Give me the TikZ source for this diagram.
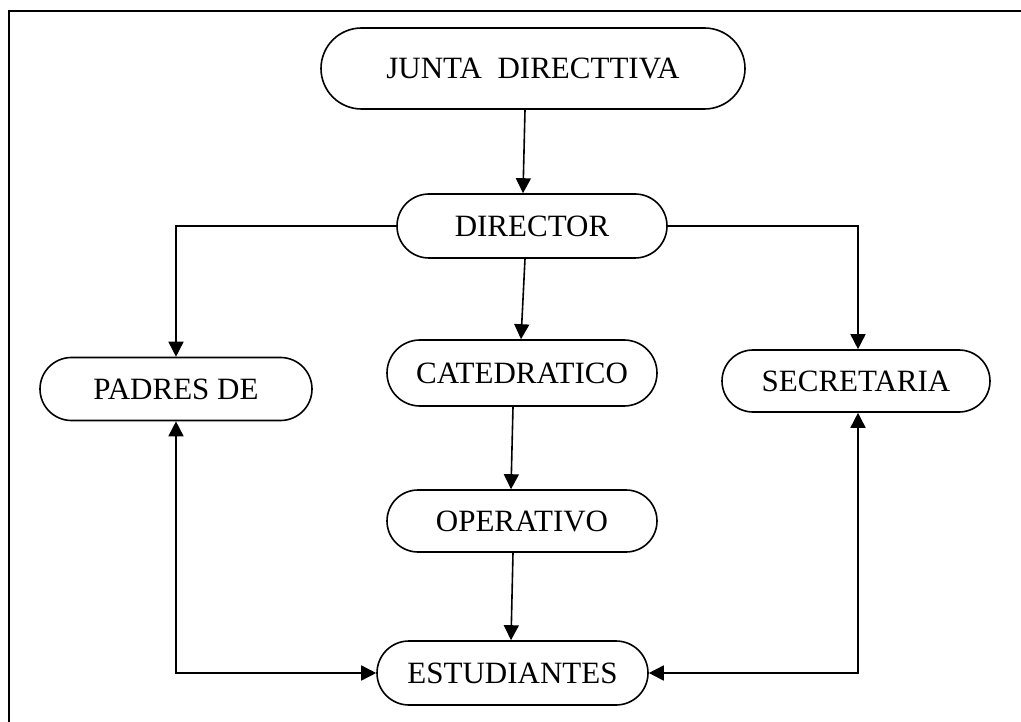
\documentclass[tikz,border=0pt]{standalone}
\usepackage{fontspec}
\setmainfont{Liberation Serif}
\usetikzlibrary{shapes.misc,arrows.meta}
\begin{document}
\begin{tikzpicture}[x=1pt,y=-1pt,
  box/.style={draw,line width=1.6pt,rounded rectangle,inner sep=0pt,
    font=\fontsize{31}{36}\selectfont},
  arr/.style={line width=1.6pt,-{Triangle[length=15pt,width=15pt]}},
  darr/.style={line width=1.6pt,{Triangle[length=15pt,width=15pt]}-{Triangle[length=15pt,width=15pt]}},
  frame/.style={line width=2.2pt}]
\useasboundingbox (0,0) rectangle (1021,722);
\draw[frame] (9,722) -- (9,11) -- (1021,11);
\node[box,minimum width=424pt,minimum height=81pt] (junta) at (533,68.5) {JUNTA\ \ DIRECTTIVA};
\node[box,minimum width=270pt,minimum height=64pt] (director) at (532,226) {DIRECTOR};
\node[box,minimum width=272pt,minimum height=63pt] (padres) at (176,389) {PADRES DE};
\node[box,minimum width=270pt,minimum height=66pt] (catedratico) at (522,373) {CATEDRATICO};
\node[box,minimum width=268pt,minimum height=62pt] (secretaria) at (856,381) {SECRETARIA};
\node[box,minimum width=270pt,minimum height=62pt] (operativo) at (522,521) {OPERATIVO};
\node[box,minimum width=271pt,minimum height=64pt] (estudiantes) at (512.5,673) {ESTUDIANTES};
\draw[arr] ([xshift=-8pt]junta.south) -- ([xshift=-9pt]director.north);
\draw[arr] (director.west) -| (padres.north);
\draw[arr] (director.east) -| ([xshift=2pt]secretaria.north);
\draw[arr] ([xshift=-7pt]director.south) -- ([xshift=-1pt]catedratico.north);
\draw[arr] ([xshift=-9pt]catedratico.south) -- ([xshift=-11pt]operativo.north);
\draw[arr] ([xshift=-9pt]operativo.south) -- ([xshift=-1.5pt]estudiantes.north);
\draw[darr] (padres.south) |- (estudiantes.west);
\draw[darr] ([xshift=2pt]secretaria.south) |- (estudiantes.east);
\end{tikzpicture}
\end{document}
